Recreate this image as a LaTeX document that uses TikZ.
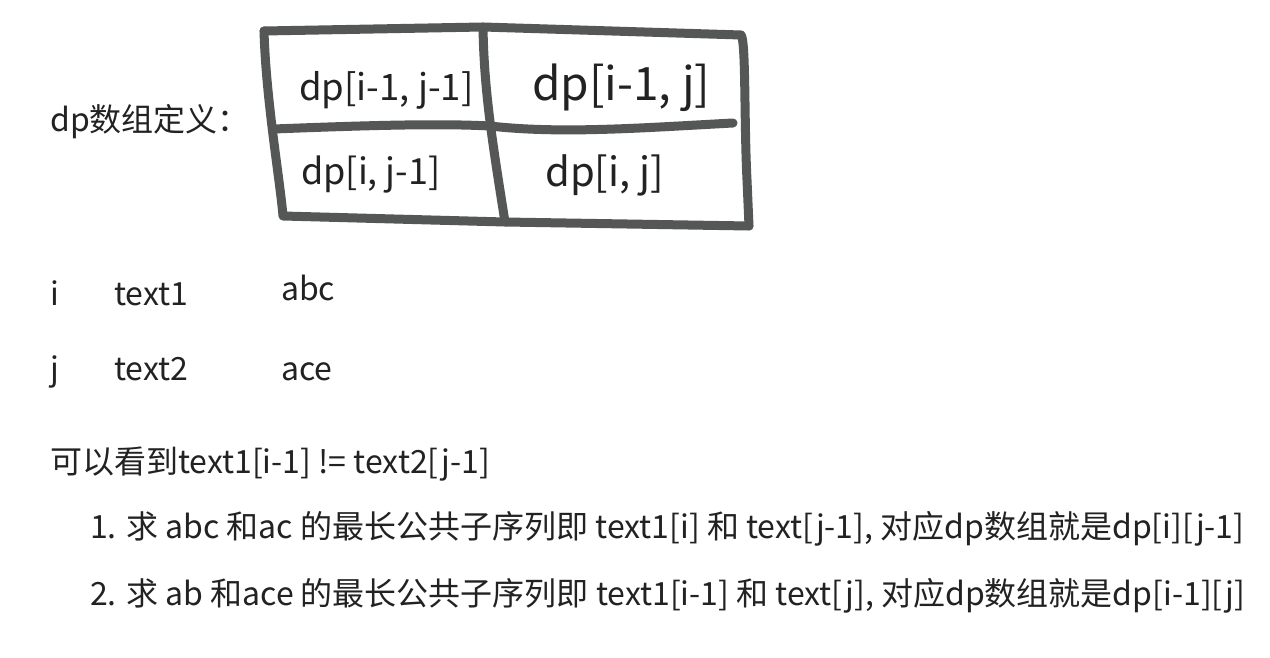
\documentclass[tikz,border=0pt]{standalone}
\usepackage{fontspec}
\setmainfont{Noto Sans CJK SC}
\definecolor{pen}{HTML}{555757}
\definecolor{ink}{HTML}{222222}
\tikzset{
  txt/.style={anchor=base west,inner sep=0pt,text=ink,font=\fontsize{32}{38}\selectfont},
  cell/.style={txt,font=\fontsize{#1}{#1}\selectfont},
  stroke/.style={draw=pen,line width=9pt,line cap=round,line join=round}
}
\begin{document}
\begin{tikzpicture}[x=1pt,y=-1pt]
   \useasboundingbox[fill=white] (0,0) rectangle (1270,658);

   % hand drawn grid
   \coordinate (tl) at (264,31);
   \coordinate (tm) at (483,27);
   \coordinate (tr) at (741,35);
   \coordinate (ml) at (274,129);
   \coordinate (mr) at (733,123);
   \coordinate (bl) at (283,216);
   \coordinate (bm) at (505,222);
   \coordinate (br) at (749,226);
   \draw[stroke] (tl) -- (tm) -- (tr) .. controls (746,40) and (744,120) .. (747,180) -- (br);
   \draw[stroke] (tl) .. controls (266,100) and (280,180) .. (bl) -- (bm) -- (br);
   \draw[stroke] (tm) .. controls (484,90) and (492,140) .. (bm);
   \draw[stroke] (ml) .. controls (400,124) and (450,124) .. (490,126)
      .. controls (560,134) and (640,128) .. (mr);

   \node[cell=36.5] (c00) at (299,101) {dp[i-1, j-1]};
   \node[cell=46] (c01) at (532,101) {dp[i-1, j]};
   \node[cell=36] (c10) at (301,185) {dp[i, j-1]};
   \node[cell=40] (c11) at (545,187) {dp[i, j]};

   \node[txt] (def) at (50,132) {dp数组定义：};

   \node[txt] (vi) at (50,305) {i};
   \node[txt] (t1) at (114,305) {text1};
   \node[txt] (s1) at (281,300) {abc};
   \node[txt] (vj) at (50,380) {j};
   \node[txt] (t2) at (114,380) {text2};
   \node[txt] (s2) at (281,380) {ace};

   \node[txt] (see) at (50,473) {可以看到text1[i-1] != text2[j-1]};
   \node[txt] (one) at (90,538) {1. 求 abc 和ac 的最长公共子序列即 text1[i] 和 text[j-1], 对应dp数组就是dp[i][j-1]};
   \node[txt] (two) at (90,605) {2. 求 ab 和ace 的最长公共子序列即 text1[i-1] 和 text[j], 对应dp数组就是dp[i-1][j]};
  \end{tikzpicture}
\end{document}
